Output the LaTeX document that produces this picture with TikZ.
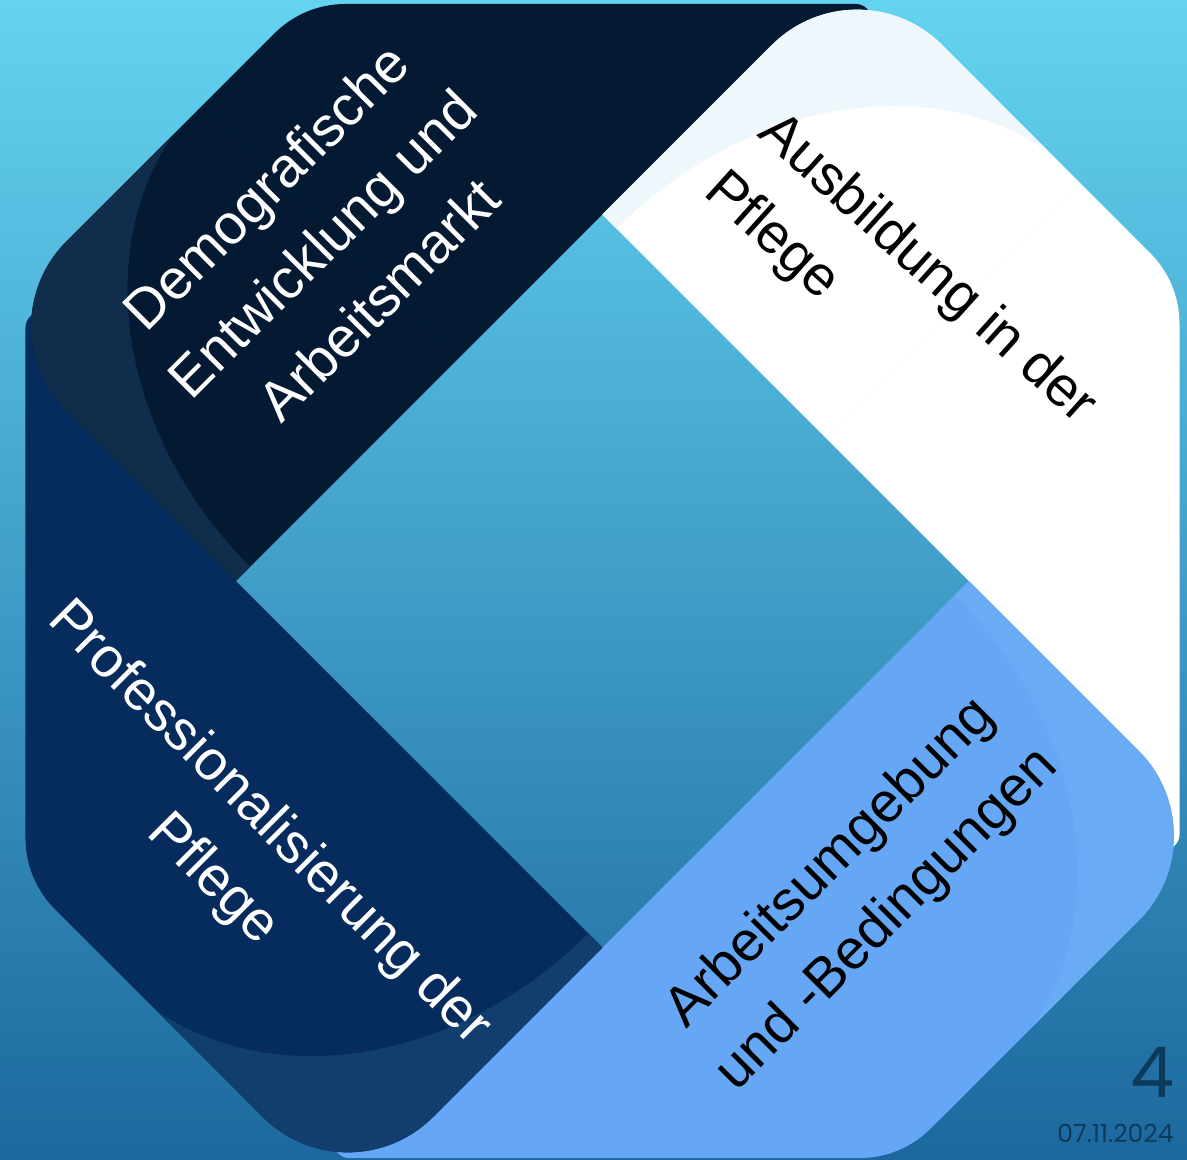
\documentclass[tikz,border=0pt]{standalone}
\usepackage{fontspec}
\setmainfont{Liberation Sans}
\newfontfamily\numfont{Poppins}
\definecolor{bgtop}{HTML}{64D3F0}
\definecolor{bgbot}{HTML}{1C689E}
\definecolor{navy}{HTML}{041A33}
\definecolor{navyfold}{HTML}{112D4C}
\definecolor{wband}{HTML}{FFFFFF}
\definecolor{wfold}{HTML}{EEF8FC}
\definecolor{lblue}{HTML}{65A7F4}
\definecolor{lbluefold}{HTML}{6AABF5}
\definecolor{dblue}{HTML}{062B5D}
\definecolor{dbluefold}{HTML}{123E6E}
\definecolor{numcol}{HTML}{0E3A5A}
\def\bandshape{(0,0) -- (0,240) arc[start angle=180,end angle=90,radius=120] -- (414.6,360) arc[start angle=90,end angle=45,radius=100] -- (846.4,-30.4) arc[start angle=45,end angle=-45,radius=15] -- (760,-140) -- (518.3,0) -- cycle}
\newcommand\drawband[3]{%
  \begin{scope}[rotate=#1, shift={(0,366.5)}, rotate=-45]
    \fill[#2] \bandshape;
    \begin{scope}
      \clip \bandshape;
      \clip (-50,-50) rectangle (315,450);
      \fill[#3, even odd rule] (-50,-50) rectangle (315,450) (315,0) ellipse [x radius=295, y radius=364];
    \end{scope}
  \end{scope}}
\tikzset{
  lbl/.style={font=\fontsize{56}{80}\selectfont, inner sep=0pt},
}
\begin{document}
\begin{tikzpicture}[x=1pt,y=1pt]
\useasboundingbox (-602.5,-579) rectangle (584.5,581);
\shade[top color=bgtop, bottom color=bgbot] (-602.5,-579) rectangle (584.5,581);
% bands (light blue redrawn over white near the right corner)
\drawband{270}{lblue}{lbluefold}
\drawband{180}{dblue}{dbluefold}
\drawband{90}{navy}{navyfold}
\drawband{0}{wband}{wfold}
\begin{scope}
  \clip (337.5,-600) rectangle (600,600);
  \drawband{270}{lblue}{lbluefold}
\end{scope}
% labels
\node[lbl, text=white, align=center, rotate=45] (demo) at (-280.5,338)
  {Demografische\\Entwicklung und\\Arbeitsmarkt};
\node[lbl, text=black, align=left, rotate=-42] (ausb) at (297.5,282)
  {Ausbildung in der\\Pflege};
\node[lbl, text=black, align=center, rotate=45] (arb) at (257,-311)
  {Arbeitsumgebung\\und -Bedingungen};
\node[lbl, text=white, align=center, rotate=-45] (prof) at (-362,-271)
  {Professionalisierung der\\Pflege};
\node[font=\numfont\fontsize{70}{70}\selectfont, text=numcol, inner sep=0pt] (num) at (550.5,-491) {4};
\node[font=\numfont\fontsize{25}{25}\selectfont, text=numcol, inner sep=0pt] (date) at (513,-552) {07.11.2024};
\end{tikzpicture}
\end{document}
